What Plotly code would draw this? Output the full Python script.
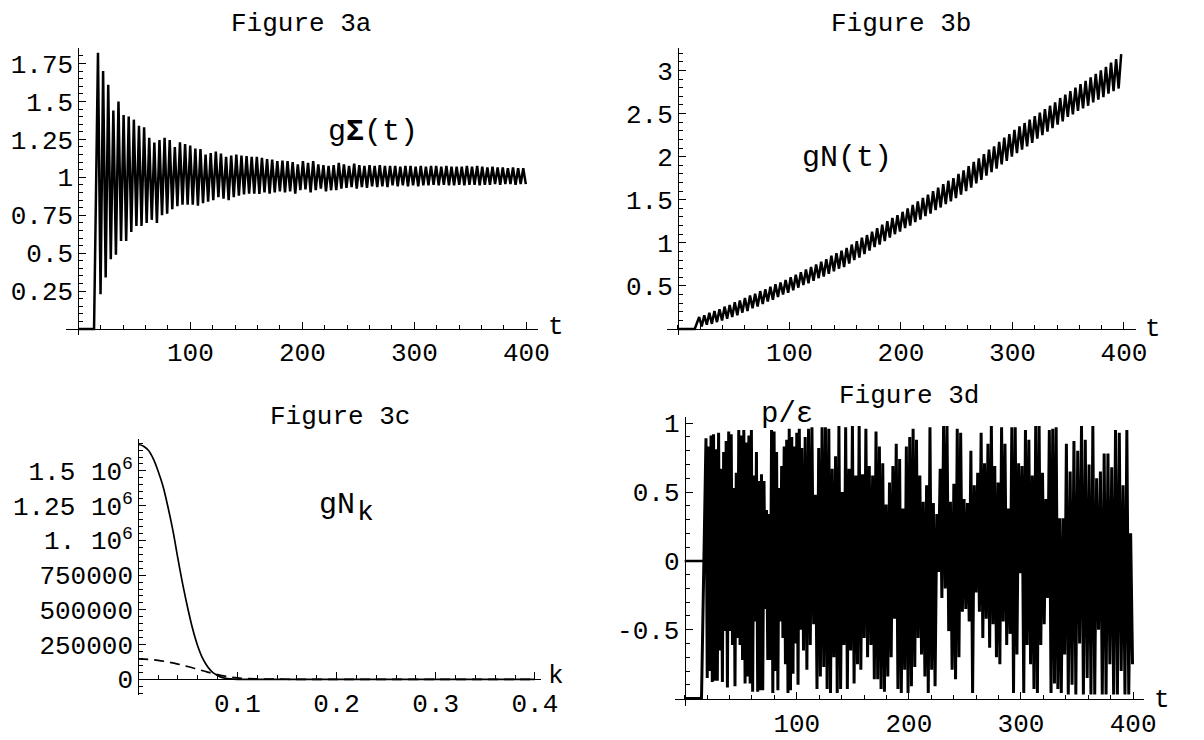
import plotly.graph_objects as go
import numpy as np

W, H = 1204, 740
FONT = "Liberation Mono"

# ---------------- data ----------------
# Figure 3a : g*Sigma(t)  (flat onset, then successive maxima / minima)
a_onset_t = [0, 14]
a_onset_v = [0.0, 0.0]
a_first_t, a_last_t = 17.5, 399.5
a_peaks = [1.82, 1.70, 1.61, 1.44, 1.50, 1.41, 1.40, 1.38, 1.34, 1.33, 1.26, 1.23, 1.245, 1.26, 1.245,
           1.20, 1.23, 1.22, 1.21,
           1.19, 1.186, 1.15, 1.16, 1.17, 1.156, 1.135, 1.143, 1.15, 1.143, 1.14, 1.135, 1.135, 1.128,
           1.12, 1.117, 1.107, 1.11, 1.107, 1.10, 1.085, 1.107, 1.096, 1.107, 1.085, 1.08, 1.075,
           1.08, 1.096, 1.085, 1.075, 1.09, 1.08, 1.075, 1.08, 1.075, 1.08, 1.075, 1.075, 1.075, 1.07,
           1.075, 1.075, 1.07, 1.075, 1.07, 1.075, 1.075, 1.07, 1.075, 1.07, 1.07, 1.07, 1.075, 1.07, 1.075,
           1.07, 1.065, 1.07, 1.065, 1.065, 1.06, 1.065, 1.06, 1.06]
a_troughs = [0.23, 0.34, 0.46, 0.49, 0.58, 0.58, 0.64, 0.68, 0.68, 0.70, 0.72, 0.70, 0.75, 0.76, 0.79,
             0.81, 0.82, 0.82,
             0.82, 0.814, 0.83, 0.84, 0.85, 0.87, 0.86, 0.85, 0.87, 0.88, 0.887, 0.893, 0.893, 0.89,
             0.90, 0.893, 0.90, 0.908, 0.90, 0.908, 0.893, 0.915, 0.92, 0.90, 0.915, 0.925, 0.908, 0.915,
             0.915, 0.925, 0.93, 0.936, 0.925, 0.936, 0.93, 0.94, 0.936, 0.94, 0.936, 0.947, 0.94, 0.947,
             0.94, 0.947, 0.94, 0.947, 0.947, 0.95, 0.947, 0.95, 0.947, 0.947, 0.95, 0.947, 0.95, 0.95, 0.947,
             0.95, 0.95, 0.955, 0.95, 0.955, 0.955, 0.95, 0.955, 0.955]

# Figure 3b : g*N(t)
b_onset_t = [0, 15]
b_onset_v = [0.0, 0.0]
b_first_t, b_last_t = 19, 397.5
b_peaks = [0.14, 0.16, 0.19, 0.21, 0.23, 0.26, 0.28, 0.31, 0.33, 0.36, 0.39, 0.41, 0.44, 0.46, 0.49,
           0.52, 0.54, 0.57, 0.60, 0.63, 0.66, 0.69, 0.72, 0.75, 0.78, 0.81, 0.85, 0.88, 0.91, 0.94,
           0.98, 1.02, 1.06, 1.09, 1.13, 1.17, 1.21, 1.25, 1.29, 1.32, 1.36, 1.40, 1.44, 1.48, 1.52,
           1.56, 1.60, 1.64, 1.68, 1.72, 1.75, 1.80, 1.84, 1.89, 1.94, 1.98, 2.03, 2.08, 2.12, 2.17,
           2.22, 2.26, 2.31, 2.35, 2.39, 2.43, 2.47, 2.51, 2.55, 2.59, 2.63, 2.68, 2.72, 2.76, 2.80,
           2.84, 2.88, 2.92, 2.96, 3.00, 3.04, 3.09, 3.13, 3.19]
b_troughs = [0.03, 0.05, 0.06, 0.08, 0.10, 0.12, 0.14, 0.16, 0.19, 0.21, 0.24, 0.26, 0.29, 0.32, 0.34,
             0.37, 0.40, 0.42, 0.45, 0.48, 0.51, 0.53, 0.56, 0.59, 0.61, 0.64, 0.67, 0.70, 0.72, 0.76,
             0.80, 0.83, 0.87, 0.91, 0.95, 0.98, 1.02, 1.06, 1.10, 1.13, 1.17, 1.20, 1.24, 1.27, 1.31,
             1.34, 1.38, 1.41, 1.45, 1.48, 1.52, 1.56, 1.60, 1.64, 1.69, 1.73, 1.78, 1.82, 1.86, 1.91,
             1.95, 2.00, 2.04, 2.08, 2.12, 2.16, 2.21, 2.25, 2.29, 2.33, 2.37, 2.41, 2.46, 2.49, 2.53,
             2.56, 2.59, 2.63, 2.66, 2.69, 2.73, 2.76, 2.79]

# Figure 3c : g*N_k (solid and dashed)
c_k = [0, 0.005, 0.01, 0.015, 0.02, 0.025, 0.03, 0.035, 0.04, 0.045, 0.05, 0.055, 0.06, 0.065,
       0.07, 0.075, 0.08, 0.085, 0.09, 0.095, 0.1, 0.15, 0.2, 0.3, 0.4]
c_solid = [1.69e6, 1.68e6, 1.65e6, 1.59e6, 1.50e6, 1.39e6, 1.24e6, 1.07e6, 0.87e6, 0.68e6, 0.51e6,
           0.36e6, 0.24e6, 0.15e6, 0.09e6, 0.05e6, 0.028e6, 0.012e6, 0.005e6, 0.002e6, 0, 0, 0, 0, 0]
c_k_dash = [0, 0.01, 0.02, 0.03, 0.04, 0.05, 0.06, 0.07, 0.08, 0.09, 0.10, 0.12, 0.15, 0.2, 0.3, 0.4]
c_dashed = [147000, 144000, 137000, 125000, 110000, 92000, 72000, 52000, 34000, 20000, 10000, 3000,
            500, 0, 0, 0]

# Figure 3d : p/epsilon
d_init_t = [0, 21]
d_init_v = [0.0, 0.0]
d_onset_t = [0, 15]
d_onset_v = [-1.0, -1.0]
# start / end times of the stretches of extrema read below
d_segment_t = [19, 104.5, 218.8, 340.5, 399.5]
d_tops_1 = [0.89, 0.83, 0.91, 0.92, 0.81, 0.93, 0.67, 0.79, 0.87, 0.94, 0.92, 0.53, 0.64, 0.95, 0.91,
            0.95, 0.86, 0.91, 0.95, 0.62, 0.79, 0.58, 0.63, 0.58, 0.37, 0.34, 0.95, 0.94, 0.79, 0.53,
            0.69, 0.83, 0.88, 0.96, 0.90, 0.83, 0.93, 0.96]
d_bottoms_1 = [-0.85, -0.80, -0.88, -0.87, -0.87, -0.65, -0.88, -0.51, -0.92, -0.51, -0.61, -0.91,
               -0.56, -0.61, -0.72, -0.89, -0.84, -0.89, -0.95, -0.44, -0.95, -0.94, -0.94, -0.35,
               -0.72, -0.72, -0.96, -0.80, -0.94, -0.44, -0.56, -0.75, -0.96, -0.94, -0.82, -0.60,
               -0.90, -0.50]
d_tops_2 = [0.82, 0.90, 0.96, 0.97, 0.48, 0.82, 0.97, 0.97, 0.96, 0.67, 0.76, 0.98, 0.50, 0.97, 0.67,
            0.98, 0.62, 0.98, 0.63, 0.96, 0.69, 0.62, 0.94, 0.83, 0.71, 0.41, 0.57, 0.69, 0.85, 0.74,
            0.38, 0.83, 0.90, 0.96, 0.88, 0.62, 0.43, 0.55]
d_bottoms_2 = [-0.65, -0.79, -0.61, -0.46, -0.93, -0.84, -0.77, -0.93, -0.96, -0.70, -0.96, -0.93,
               -0.61, -0.93, -0.65, -0.89, -0.75, -0.79, -0.56, -0.70, -0.61, -0.86, -0.86, -0.93,
               -0.95, -0.84, -0.70, -0.42, -0.93, -0.96, -0.79, -0.96, -0.91, -0.77, -0.56, -0.68,
               -0.84, -0.96]
d_tops_3 = [0.97, 0.42, 0.34, 0.67, 0.98, 0.98, 0.43, 0.56, 0.96, 0.93, 0.45, 0.42, 0.80, 0.55, 0.64,
            0.93, 0.71, 0.85, 0.98, 0.69, 0.57, 0.97, 0.85, 0.38, 0.97, 0.97, 0.71, 0.69, 0.95, 0.88,
            0.62, 0.98, 0.98, 0.64, 0.45, 0.95, 0.96, 0.97, 0.31, 0.31]
d_bottoms_3 = [-0.79, -0.91, -0.08, -0.27, -0.20, -0.51, -0.79, -0.86, -0.70, -0.37, -0.35, -0.44,
               -0.96, -0.23, -0.37, -0.56, -0.42, -0.63, -0.46, -0.70, -0.75, -0.44, -0.61, -0.53,
               -0.96, -0.68, -0.09, -0.96, -0.61, -0.75, -0.93, -0.96, -0.61, -0.46, -0.27, -0.96,
               -0.89, -0.93, -0.96, -0.68]
d_tops_4 = [0.85, 0.65, 0.87, 0.80, 0.98, 0.88, 0.70, 0.98, 0.60, 0.65, 0.78, 0.78, 0.68, 0.95, 0.93,
            0.55, 0.95, 0.20]
d_bottoms_4 = [-0.97, -0.90, -0.97, -0.60, -0.97, -0.85, -0.97, -0.97, -0.50, -0.97, -0.97, -0.75,
               -0.97, -0.97, -0.80, -0.97, -0.97, -0.75]

# tick labels
a_yticks = [0.25, 0.5, 0.75, 1, 1.25, 1.5, 1.75]
a_yticktext = ["0.25", "0.5", "0.75", "1", "1.25", "1.5", "1.75"]
t_ticks = [100, 200, 300, 400]
t_ticktext = ["100", "200", "300", "400"]
b_yticks = [0.5, 1, 1.5, 2, 2.5, 3]
b_yticktext = ["0.5", "1", "1.5", "2", "2.5", "3"]
c_yticks = [0, 250000, 500000, 750000, 1000000, 1250000, 1500000]
c_yticktext = ["0", "250000", "500000", "750000", "1. 10<sup>6</sup>", "1.25 10<sup>6</sup>",
               "1.5 10<sup>6</sup>"]
c_xticks = [0.1, 0.2, 0.3, 0.4]
c_xticktext = ["0.1", "0.2", "0.3", "0.4"]
d_yticks = [-0.5, 0, 0.5, 1]
d_yticktext = ["-0.5", "0", "0.5", "1"]


def alternate(hi, lo, t_first, t_last):
    n = len(hi) + len(lo)
    ts = np.linspace(t_first, t_last, n)
    vals = [hi[i // 2] if i % 2 == 0 else lo[i // 2] for i in range(n)]
    return list(ts), vals


def zigzag(onset_t, onset_v, hi, lo, t_first, t_last):
    ts, vals = alternate(hi, lo, t_first, t_last)
    return list(onset_t) + ts, list(onset_v) + vals


# ---------------- layout geometry (pixels: left, right, top, bottom) ----------------
panels = {
    1: dict(box=(66.7, 545.5, 42, 337), xr=(-11.27, 410.2), yr=(-0.038, 1.853), xcross=0.0),
    2: dict(box=(676.2, 1152.4, 41.7, 337), xr=(-10.17, 410.9), yr=(-0.068, 3.265), xcross=0.0),
    3: dict(box=(140.2, 548.6, 444, 707), xr=(0.0, 0.406), yr=(-112000, 1729700), xcross=0.0),
    4: dict(box=(684.6, 1160, 421.7, 718), xr=(-8.7, 409.4), yr=(-1.051, 1.043), xcross=-1.006),
}

fig = go.Figure()
LINE = dict(color="black", width=2.5)

ta, va = zigzag(a_onset_t, a_onset_v, a_peaks, a_troughs, a_first_t, a_last_t)
fig.add_trace(go.Scatter(x=ta, y=va, mode="lines", line=LINE, xaxis="x", yaxis="y"))

tb, vb = zigzag(b_onset_t, b_onset_v, b_peaks, b_troughs, b_first_t, b_last_t)
fig.add_trace(go.Scatter(x=tb, y=vb, mode="lines", line=LINE, xaxis="x2", yaxis="y2"))

fig.add_trace(go.Scatter(x=c_k, y=c_solid, mode="lines",
                         line=dict(color="black", width=1.7, shape="spline"),
                         xaxis="x3", yaxis="y3"))
fig.add_trace(go.Scatter(x=c_k_dash, y=c_dashed, mode="lines",
                         line=dict(color="black", width=1.7, dash="10px,6px", shape="spline"),
                         xaxis="x3", yaxis="y3"))

td, vd = list(d_onset_t), list(d_onset_v)
d_blocks = [(d_tops_1, d_bottoms_1), (d_tops_2, d_bottoms_2), (d_tops_3, d_bottoms_3),
            (d_tops_4, d_bottoms_4)]
for s, (hi, lo) in enumerate(d_blocks):
    t0, t1 = d_segment_t[s], d_segment_t[s + 1]
    step = (t1 - t0) / (len(hi) + len(lo))
    last = s == len(d_blocks) - 1
    ts, vals = alternate(hi, lo, t0, t1 - (0 if last else step))
    td += ts
    vd += vals
fig.add_trace(go.Scatter(x=td, y=vd, mode="lines", line=dict(color="black", width=3.0),
                         xaxis="x4", yaxis="y4"))
fig.add_trace(go.Scatter(x=d_init_t, y=d_init_v, mode="lines", line=dict(color="black", width=2.5),
                         xaxis="x4", yaxis="y4"))

tickfont = dict(family=FONT, size=26, color="black")
ticks_cfg = {
    1: dict(xt=(t_ticks, t_ticktext), xminor=20, yt=(a_yticks, a_yticktext), yminor=0.05),
    2: dict(xt=(t_ticks, t_ticktext), xminor=20, yt=(b_yticks, b_yticktext), yminor=0.1),
    3: dict(xt=(c_xticks, c_xticktext), xminor=0.02, yt=(c_yticks, c_yticktext), yminor=50000),
    4: dict(xt=(t_ticks, t_ticktext), xminor=20, yt=(d_yticks, d_yticktext), yminor=0.1),
}

layout = {}
for i, p in panels.items():
    l, r, t, b = p["box"]
    dx = [l / W, r / W]
    dy = [1 - b / H, 1 - t / H]
    xr, yr = p["xr"], p["yr"]
    ypos = dy[0] + (p["xcross"] - yr[0]) / (yr[1] - yr[0]) * (dy[1] - dy[0])
    xpos = dx[0] + (0 - xr[0]) / (xr[1] - xr[0]) * (dx[1] - dx[0])
    sfx = "" if i == 1 else str(i)
    tc = ticks_cfg[i]
    common = dict(showgrid=False, zeroline=False, showline=True, linecolor="black", linewidth=1,
                  ticks="inside", ticklen=7, tickwidth=1, tickcolor="black", tickfont=tickfont,
                  anchor="free", tickmode="array")
    layout["xaxis" + sfx] = dict(common, domain=dx, range=list(xr), position=ypos,
                                 tickvals=tc["xt"][0], ticktext=tc["xt"][1],
                                 minor=dict(ticks="inside", ticklen=4, tickcolor="black", tickwidth=1,
                                            dtick=tc["xminor"], tick0=0, showgrid=False))
    layout["yaxis" + sfx] = dict(common, domain=dy, range=list(yr), position=xpos,
                                 tickvals=tc["yt"][0], ticktext=tc["yt"][1],
                                 minor=dict(ticks="inside", ticklen=4, tickcolor="black", tickwidth=1,
                                            dtick=tc["yminor"], tick0=0, showgrid=False))


def ann(text, x, y, size, xanchor="center", yanchor="middle"):
    return dict(text=text, x=x / W, y=1 - y / H, xref="paper", yref="paper", showarrow=False,
                font=dict(family=FONT, size=size, color="black"), xanchor=xanchor, yanchor=yanchor)


annotations = [
    ann("Figure 3a", 305, 17, 26),
    ann("Figure 3b", 914, 17, 26),
    ann("Figure 3c", 345, 421, 26),
    ann("Figure 3d", 922, 400, 26),
    ann("g<b>Σ</b>(t)", 378, 128, 30),
    ann("gN(t)", 859, 155, 30),
    ann("gN", 342, 512, 30),
    ann("k", 371, 520, 28),
    ann("p/ε", 798, 419, 29),
    ann("t", 564, 329, 26),
    ann("t", 1170, 331, 26),
    ann("k", 564, 688, 26),
    ann("t", 1179, 712, 26),
]

fig.update_layout(**layout)
fig.update_layout(width=W, height=H, margin=dict(l=0, r=0, t=0, b=0), showlegend=False,
                  plot_bgcolor="white", paper_bgcolor="white", annotations=annotations)

fig.write_html("out.html")
